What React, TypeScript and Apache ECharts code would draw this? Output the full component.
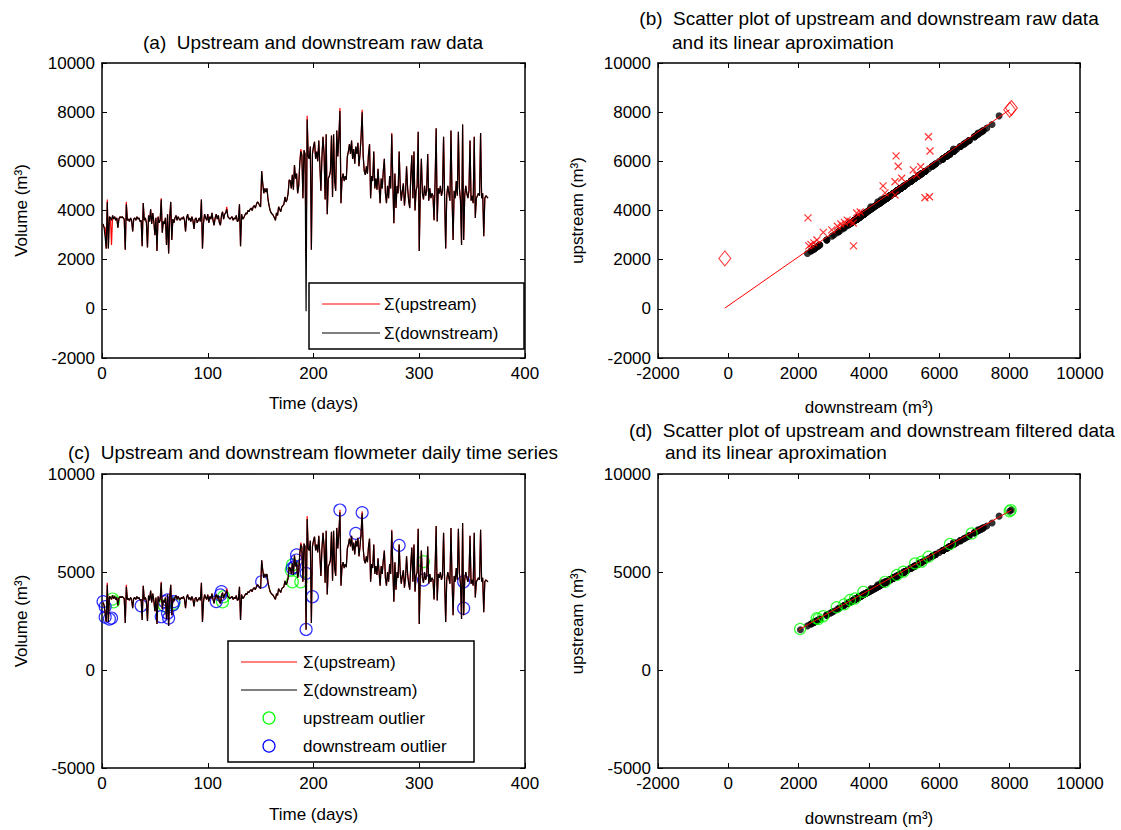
import React, { useEffect, useRef } from "react";
import * as echarts from "echarts";

// ---------- DATA ----------
// daily downstream raw volume, day 1..365
const downstream: number[] = [
  3450, 3300, 2900, 2450, 4350, 2450, 3750, 3700, 3600, 3800,
  3650, 3750, 3600, 3700, 3300, 3650, 3750, 3700, 3750, 3700,
  3650, 2400, 4250, 3600, 3650, 3550, 3700, 3600, 3150, 3650,
  3700, 3600, 3750, 3650, 3700, 3550, 3600, 2550, 4300, 3600,
  3700, 3500, 2500, 3800, 3550, 4050, 3450, 3900, 3550, 3000,
  3700, 2350, 3750, 3500, 3600, 4450, 3100, 3550, 3450, 3700,
  2600, 3850, 2250, 3700, 4350, 2800, 3650, 3500, 3700, 3800,
  3600, 3750, 3650, 3600, 3700, 3650, 3750, 3600, 3150, 3700,
  3850, 3600, 3700, 3550, 3750, 3600, 3250, 3650, 3700, 3500,
  3600, 3700, 3550, 4450, 2450, 3500, 3850, 3700, 3600, 3850,
  3500, 3750, 3650, 3900, 3600, 3400, 3700, 3850, 3650, 3800,
  3500, 3400, 3800, 3950, 3650, 3850, 3900, 4050, 3750, 3700,
  3650, 3700, 3750, 3600, 3700, 3650, 3800, 3550, 3600, 4250,
  2550, 3850, 3650, 3700, 3800, 3900, 3850, 4000, 3950, 4050,
  4100, 4000, 4150, 4200, 4100, 4250, 4350, 4300, 4200, 4150,
  5600, 5100, 4700, 4900, 4750, 4900, 4450, 4200, 4000, 3900,
  3850, 3800, 3700, 3600, 3900, 3800, 4150, 4050, 3950, 4150,
  4200, 4250, 4550, 4350, 4450, 4700, 5250, 5200, 4900, 5450,
  4850, 5850, 5300, 5500, 4700, 5000, 5900, 6400, 6250, 4500,
  6450, 6300, -100, 7700, 6200, 6100, 6600, 2400, 6300, 6600,
  6800, 6100, 6400, 6000, 6850, 5850, 4800, 6200, 7000, 6300,
  4450, 7100, 3850, 5300, 5400, 5600, 7050, 4550, 7100, 5200,
  4800, 7250, 6200, 7000, 8050, 4300, 5300, 5500, 5200, 5400,
  5250, 6200, 6400, 6700, 6300, 6850, 6100, 6500, 5900, 6600,
  6300, 6750, 5800, 6300, 7000, 8000, 6200, 5600, 5450, 5800,
  5500, 6300, 6700, 4500, 5400, 5200, 6400, 4900, 5300, 4850,
  5700, 5000, 4300, 5300, 4900, 5600, 6100, 4700, 4300, 5000,
  4500, 5400, 4900, 7100, 5200, 3480, 5500, 4100, 5000, 4700,
  6400, 5000, 4400, 4800, 5100, 4200, 4700, 5800, 4900, 4400,
  4100, 5400, 6250, 4500, 6400, 4000, 4800, 5000, 7200, 2350,
  4800, 6100, 4700, 4450, 5000, 4600, 4800, 6300, 4400, 4900,
  4500, 4700, 4600, 3600, 5200, 7350, 3550, 4900, 4700, 5000,
  4600, 4800, 7000, 4500, 2450, 4600, 5000, 4700, 4400, 7250,
  4600, 2800, 4800, 4500, 5200, 4600, 7200, 4900, 4400, 2600,
  7500, 2800, 4600, 5000, 4700, 4500, 4800, 6850, 4400, 4600,
  4300, 7000, 3700, 4500, 4600, 4700, 4600, 7150, 4500, 4700,
  2950, 4500, 4600, 4550, 4500,
];

// upstream differs from downstream only on these days: [day, upstream]
const upstreamTipEdits: [number, number][] = [
  [5, 4450], [23, 4350], [56, 4500], [118, 4150],
  [188, 6500], [194, 7850], [225, 8170], [246, 8100], [274, 7150],
];
const upstreamOutlierEdits: [number, number][] = [
  [3, 3300], [9, 2600], [193, 2050],
];
// filtered series: corrected downstream days
const filteredFixes: [number, number][] = [[193, 2050]];

// (b) diamond-marked days (downstream, upstream pairs)
const rawDiamondDays: number[] = [193, 225, 246];
// (b) red x outliers: [downstream, upstream]
const rawOutlierPairs: [number, number][] = [
  [2265, 3700], [2290, 2560], [2350, 2620], [2430, 2680], [2520, 2800],
  [2700, 3110], [2940, 3210], [3100, 3360], [3200, 3450], [3300, 3520],
  [3380, 3610], [3460, 3560], [3550, 3490], [3560, 2560], [3650, 3900],
  [3750, 3940], [4400, 5000], [4455, 4720], [4740, 4630], [4770, 6220],
  [4830, 5800], [4740, 5170], [4930, 5310], [5260, 5650], [5360, 5440],
  [5470, 5780], [5690, 7000], [5735, 6420], [5590, 4520], [5720, 4560],
];
const rawFitLine: [number, number][] = [[-100, 30], [8000, 8100]];
const filteredFitLine: [number, number][] = [[2000, 2050], [8050, 8160]];

// (c) outliers: [day, volume]
const upstreamOutliersC: [number, number][] = [
  [10, 3620], [11, 3480], [59, 3280], [68, 3400], [115, 3740], [114, 3480],
  [180, 5360], [179, 5100], [180, 4500], [188, 4500], [304, 5530],
];
const downstreamOutliersC: [number, number][] = [
  [1, 3490], [3, 3230], [3, 2700], [7, 2600], [9, 2650], [37, 3280],
  [59, 3490], [62, 3570], [56, 2720], [63, 2650], [62, 2900], [67, 3320],
  [68, 3490], [113, 4000], [112, 3830], [108, 3490], [151, 4500], [184, 5870],
  [184, 5610], [182, 5270], [180, 5190], [193, 4930], [193, 2070], [199, 3740],
  [225, 8160], [246, 8030], [240, 6970], [281, 6360], [304, 4590], [342, 4500],
  [342, 3150],
];
// (d) filtered outliers: [downstream, upstream]
const filteredOutlierPairs: [number, number][] = [
  [2040, 2090], [2510, 2640], [2560, 2600], [2700, 2750], [3080, 3200],
  [3300, 3350], [3460, 3570], [3600, 3650], [3840, 3990], [4460, 4500],
  [4790, 4850], [4980, 5020], [5310, 5440], [5500, 5530], [5690, 5780],
  [6300, 6430], [6920, 6970], [8030, 8160], [8000, 8100],
];

const titleA = "(a)  Upstream and downstream raw data";
const titleB1 = "(b)  Scatter plot of upstream and downstream raw data";
const titleB2 = "and its linear aproximation";
const titleC = "(c)  Upstream and downstream flowmeter daily time series";
const titleD1 = "(d)  Scatter plot of upstream and downstream filtered data";
const titleD2 = "and its linear aproximation";
const legUp = "Σ(upstream)";
const legDown = "Σ(downstream)";
const legUpOut = "upstream outlier";
const legDownOut = "downstream outlier";

// ---------- BUILD ----------
const FONT = "'Liberation Sans', Arial, Helvetica, sans-serif";
const FS = 17;
const TFS = 19;

function applyEdits(base: number[], edits: [number, number][]) {
  const a = base.slice();
  edits.forEach(([d, v]) => (a[d - 1] = v));
  return a;
}

export default function App() {
  const ref = useRef<HTMLDivElement>(null);
  useEffect(() => {
    if (!ref.current) return;
    const chart = echarts.init(ref.current, undefined, { renderer: "svg" });

    const days = downstream.map((_, i) => i + 1);
    const upRaw = applyEdits(downstream, [...upstreamTipEdits, ...upstreamOutlierEdits]);
    const downFilt = applyEdits(downstream, filteredFixes);
    const upFilt = applyEdits(downFilt, upstreamTipEdits);

    const excluded = new Set<number>([...rawDiamondDays, ...upstreamOutlierEdits.map((e) => e[0])]);
    const blackB: [number, number][] = [];
    days.forEach((d, i) => {
      if (!excluded.has(d)) blackB.push([downstream[i], upRaw[i]]);
    });
    const diamondsB = rawDiamondDays.map((d) => [downstream[d - 1], upRaw[d - 1]]);
    const blackD = days.map((d, i) => [downFilt[i], upFilt[i]]);

    const grids = [
      { left: 102, top: 63, width: 423, height: 295 },
      { left: 658, top: 63, width: 422, height: 295 },
      { left: 102, top: 474, width: 423, height: 294 },
      { left: 658, top: 474, width: 422, height: 294 },
    ];
    const xr = [
      [0, 400, 100],
      [-2000, 10000, 2000],
      [0, 400, 100],
      [-2000, 10000, 2000],
    ];
    const yr = [
      [-2000, 10000, 2000],
      [-2000, 10000, 2000],
      [-5000, 10000, 5000],
      [-5000, 10000, 5000],
    ];
    const xNames = ["Time (days)", "downstream (m³)", "Time (days)", "downstream (m³)"];
    const xGaps = [37, 41, 38, 42];
    const yNames = ["Volume (m³)", "upstream (m³)", "Volume (m³)", "upstream (m³)"];
    const yGaps = [72, 72, 72, 72];

    const base = (r: number[], gi: number, pos: string, labels: boolean) => ({
      type: "value",
      gridIndex: gi,
      position: pos,
      min: r[0],
      max: r[1],
      interval: r[2],
      axisLine: { show: true, onZero: false, lineStyle: { color: "#000", width: 1.5 } },
      axisTick: { show: true, inside: true, length: 5, lineStyle: { color: "#000", width: 1 } },
      axisLabel: {
        show: labels,
        color: "#000",
        fontSize: FS,
        fontFamily: FONT,
        margin: 7,
        formatter: (v: number) => String(v),
      },
      splitLine: { show: false },
    });

    const xAxis: any[] = [];
    const yAxis: any[] = [];
    for (let g = 0; g < 4; g++) {
      xAxis.push({
        ...base(xr[g], g, "bottom", true),
        name: xNames[g],
        nameLocation: "middle",
        nameGap: xGaps[g],
        nameTextStyle: { color: "#000", fontSize: FS, fontFamily: FONT },
      });
      yAxis.push({
        ...base(yr[g], g, "left", true),
        name: yNames[g],
        nameLocation: "middle",
        nameGap: yGaps[g],
        nameRotate: 90,
        nameTextStyle: { color: "#000", fontSize: FS, fontFamily: FONT },
      });
    }
    for (let g = 0; g < 4; g++) {
      xAxis.push(base(xr[g], g, "top", false));
      yAxis.push(base(yr[g], g, "right", false));
    }

    const lineS = (name: string, xi: number, data: any[], color: string, w = 1.2) => ({
      type: "line",
      name,
      xAxisIndex: xi,
      yAxisIndex: xi,
      data,
      showSymbol: false,
      symbol: "none",
      lineStyle: { color, width: w },
      silent: true,
    });
    const scat = (name: string, xi: number, data: any[], symbol: string, size: any, style: any) => ({
      type: "scatter",
      name,
      xAxisIndex: xi,
      yAxisIndex: xi,
      data,
      symbol,
      symbolSize: size,
      itemStyle: style,
      silent: true,
    });

    const series: any[] = [
      lineS("upA", 0, days.map((d, i) => [d, upRaw[i]]), "#ff0000"),
      lineS("downA", 0, days.map((d, i) => [d, downstream[i]]), "#000000"),

      scat("blackB", 1, blackB, "circle", 7, { color: "#000" }),
      lineS("fitB", 1, rawFitLine, "#ff0000", 1),
      scat("xB", 1, rawOutlierPairs, "path://M0,0L10,10M10,0L0,10", 7, {
        color: "transparent",
        borderColor: "#ff0000",
        borderWidth: 1.2,
      }),
      scat("diaB", 1, diamondsB, "diamond", [12, 15], {
        color: "transparent",
        borderColor: "#ff0000",
        borderWidth: 1,
      }),

      lineS("upC", 2, days.map((d, i) => [d, upFilt[i]]), "#ff0000"),
      lineS("downC", 2, days.map((d, i) => [d, downFilt[i]]), "#000000"),
      scat("greenC", 2, upstreamOutliersC, "circle", 12, {
        color: "transparent",
        borderColor: "#00ff00",
        borderWidth: 1.2,
      }),
      scat("blueC", 2, downstreamOutliersC, "circle", 12, {
        color: "transparent",
        borderColor: "#0000ff",
        borderWidth: 1.2,
      }),

      scat("blackD", 3, blackD, "circle", 7, { color: "#000" }),
      lineS("fitD", 3, filteredFitLine, "#ff0000", 1),
      scat("greenD", 3, filteredOutlierPairs, "circle", 11, {
        color: "transparent",
        borderColor: "#00ff00",
        borderWidth: 1.2,
      }),
    ];

    const txt = (text: string, x: number, y: number, align = "left", fs = FS) => ({
      type: "text",
      x,
      y,
      z: 100,
      silent: true,
      style: {
        text,
        fill: "#000",
        fontSize: fs,
        fontFamily: FONT,
        align,
        verticalAlign: "middle",
        textAlign: align,
        textVerticalAlign: "middle",
      },
    });
    const ln = (x1: number, y1: number, x2: number, y2: number, color: string) => ({
      type: "line",
      z: 101,
      silent: true,
      shape: { x1, y1, x2, y2 },
      style: { stroke: color, lineWidth: 1 },
    });
    const circ = (cx: number, cy: number, color: string) => ({
      type: "circle",
      z: 101,
      silent: true,
      shape: { cx, cy, r: 6 },
      style: { fill: "none", stroke: color, lineWidth: 1.2 },
    });
    const box = (x: number, y: number, w: number, h: number) => ({
      type: "rect",
      z: 99,
      silent: true,
      shape: { x, y, width: w, height: h },
      style: { fill: "#fff", stroke: "#000", lineWidth: 1.5 },
    });

    const graphic: any[] = [
      txt(titleA, 313, 42, "center", TFS),
      txt(titleB1, 869, 18, "center", TFS),
      txt(titleB2, 672, 42, "left", TFS),
      txt(titleC, 313, 452, "center", TFS),
      txt(titleD1, 872, 430, "center", TFS),
      txt(titleD2, 665, 452, "left", TFS),
      // legend (a)
      box(309, 283, 215, 66),
      ln(322, 304, 380, 304, "#ff0000"),
      txt(legUp, 384, 304),
      ln(322, 333, 380, 333, "#000000"),
      txt(legDown, 384, 333),
      // legend (c)
      box(228, 641, 246, 121),
      ln(241, 662, 297, 662, "#ff0000"),
      txt(legUp, 303, 662),
      ln(241, 690, 297, 690, "#000000"),
      txt(legDown, 303, 690),
      circ(269, 718, "#00ff00"),
      txt(legUpOut, 303, 718),
      circ(269, 746, "#0000ff"),
      txt(legDownOut, 303, 746),
    ];

    chart.setOption({
      animation: false,
      backgroundColor: "#fff",
      grid: grids.map((g) => ({ ...g, containLabel: false, show: false })),
      xAxis,
      yAxis,
      series,
      graphic,
    });
    return () => chart.dispose();
  }, []);
  return (
    <div
      ref={ref}
      style={{ position: "absolute", left: 0, top: 0, width: 1121, height: 830, background: "#fff" }}
    />
  );
}
